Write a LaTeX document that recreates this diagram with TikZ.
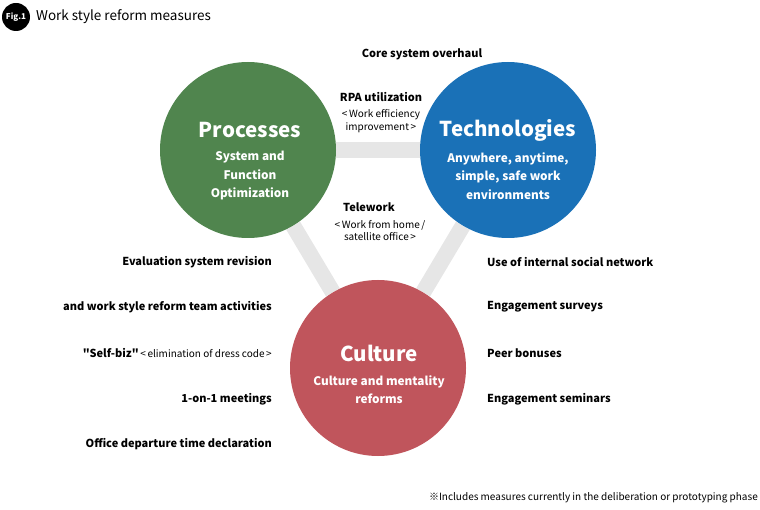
\documentclass[tikz,border=0pt]{standalone}
\usepackage{fontspec}
\setmainfont{Noto Sans CJK JP}
\newfontfamily\plainquotes{Noto Sans CJK JP}
\usetikzlibrary{backgrounds}

\definecolor{procgreen}{HTML}{50854E}
\definecolor{techblue}{HTML}{1A71B7}
\definecolor{culturered}{HTML}{C0555C}
\definecolor{barline}{HTML}{E6E6E6}

\begin{document}
\begin{tikzpicture}[x=1pt, y=-1pt,
  every node/.style={inner sep=0pt, align=center},
  pillar/.style={circle, minimum size=176pt},
  pillartitle/.style={text=white, font=\fontsize{20.5}{24}\selectfont\bfseries},
  pillarsub/.style={text=white, font=\fontsize{11.8}{18.5}\selectfont\bfseries},
  measure/.style={font=\fontsize{11}{14}\selectfont\bfseries},
  remark/.style={font=\fontsize{10}{12.5}\selectfont},
  bar/.style={barline, line width=16pt}]
  \useasboundingbox (0,0) rectangle (760,510);

  % heading
  \node[circle, fill=black, minimum size=28pt, text=white, font=\fontsize{8}{9}\selectfont\bfseries] (badge) at (16,17) {Fig.1};
  \node[anchor=west, font=\fontsize{13.5}{16}\selectfont] (heading) at (36,17) {Work style reform measures};

  % three pillars
  \node[pillar, fill=procgreen] (proc) at (248,150) {};
  \node[pillar, fill=techblue] (tech) at (508,150) {};
  \node[pillar, fill=culturered] (cult) at (378,368) {};

  \begin{scope}[on background layer]
    \draw[bar] (proc) -- (tech);
    \draw[bar] (proc) -- (cult);
    \draw[bar] (tech) -- (cult);
  \end{scope}

  \node[pillartitle] (proctitle) at (250,130) {Processes};
  \node[pillarsub] (procsub) at (250,176) {System and\\Function\\Optimization};
  \node[pillartitle] (techtitle) at (508,130) {Technologies};
  \node[pillarsub] (techsub) at (508,176) {Anywhere, anytime,\\simple, safe work\\environments};
  \node[pillartitle] (culttitle) at (379,353) {Culture};
  \node[pillarsub] (cultsub) at (379,389.5) {Culture and mentality\\reforms};

  % measures between the pillars
  \node[measure] (core) at (422,54) {Core system overhaul};
  \node[measure] (rpa) at (381,97) {RPA utilization};
  \node[remark] (rpanote) at (381,121) {<\,Work efficiency\\improvement\,>};
  \node[measure] (telework) at (369,207) {Telework};
  \node[remark] (teleworknote) at (380,230.5) {<\,Work from home\,/\\satellite office\,>};

  % measures on the left
  \node[measure, anchor=east] (evaluation) at (272,262) {Evaluation system revision};
  \node[measure, anchor=east] (team) at (272,307) {and work style reform team activities};
  \node[anchor=east] (selfbiz) at (272,353) {{\plainquotes\fontsize{11}{14}\selectfont\bfseries "Self-biz"}{\fontsize{10}{12}\selectfont\,<\,elimination of dress code\,>}};
  \node[measure, anchor=east] (oneonone) at (272,399) {1-on-1 meetings};
  \node[measure, anchor=east] (departure) at (272,444) {Office departure time declaration};

  % measures on the right
  \node[measure, anchor=west] (social) at (487,262) {Use of internal social network};
  \node[measure, anchor=west] (surveys) at (487,307) {Engagement surveys};
  \node[measure, anchor=west] (bonuses) at (487,353) {Peer bonuses};
  \node[measure, anchor=west] (seminars) at (487,399) {Engagement seminars};

  \node[anchor=east, font=\fontsize{10}{12}\selectfont] (footnote) at (758,498) {※Includes measures currently in the deliberation or prototyping phase};
\end{tikzpicture}
\end{document}
